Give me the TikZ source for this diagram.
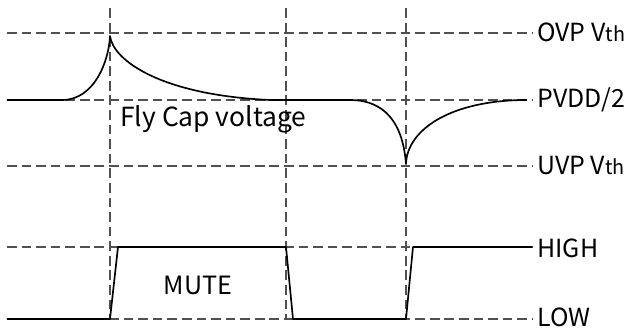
\documentclass[tikz,border=0pt]{standalone}
\usepackage{fontspec}
\setmainfont{Noto Sans CJK SC}
\usepackage{xcolor}
\definecolor{guide}{HTML}{505050}
\definecolor{wave}{HTML}{000000}
\newcommand{\vth}{V{\fontsize{11.3}{12}\selectfont th}}
\tikzset{
  grid/.style={draw=guide, line width=0.65pt, dash pattern=on 5.5pt off 2.8pt},
  sig/.style={draw=wave, line width=0.95pt, line join=round},
  lvl/.style={anchor=base west, inner sep=0pt, font=\fontsize{14.2}{16}\selectfont},
  tag/.style={inner sep=0pt, font=\fontsize{14.3}{16}\selectfont},
}

\begin{document}
\begin{tikzpicture}[x=0.02cm, y=-0.02cm]
\useasboundingbox (0,0) rectangle (630,331);

% ---- levels ----
\coordinate (ovp)  at (7, 33);
\coordinate (half) at (7, 100);
\coordinate (uvp)  at (7, 166);
\coordinate (hi)   at (7, 247);
\coordinate (lo)   at (7, 319);

% ---- guide lines ----
\foreach \c in {ovp, half, uvp, hi, lo}
  \draw[grid] (\c) -- ++(525,0);
\foreach \x in {110, 286, 406}
  \draw[grid] (\x, 8) -- (\x, 319);

% ---- level labels ----
\node[lvl] (lovp)  at (537, 42)  {OVP \vth};
\node[lvl] (lhalf) at (537, 108) {PVDD/2};
\node[lvl] (luvp)  at (537, 175) {UVP \vth};
\node[lvl] (lhi)   at (537, 258) {HIGH};
\node[lvl] (llo)   at (537, 327) {LOW};

% ---- fly cap voltage ----
\draw[sig] (half) -- (62,100)
  .. controls (95,100) and (109,60) .. (110,36)
  .. controls (113,60) and (160,95) .. (270,100)
  -- (350,100)
  .. controls (375,100) and (402,112) .. (406,164)
  .. controls (407,130) and (450,100) .. (527,100);
\node[anchor=base west, inner sep=0pt, font=\fontsize{15}{17}\selectfont] (fly) at (120,127) {Fly Cap voltage};

% ---- mute signal ----
\draw[sig] (lo) -- (110,319) -- (118,247) -- (286,247) -- (293,319)
  -- (406,319) -- (413,247) -- (532,247);
\node[tag] (mute) at (198,285) {MUTE};
\end{tikzpicture}
\end{document}
